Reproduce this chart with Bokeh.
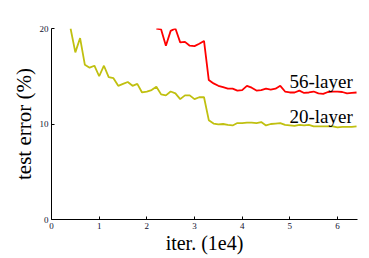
from bokeh.plotting import figure
from bokeh.models import Range1d, FixedTicker, Label
from bokeh.embed import file_html
from bokeh.resources import INLINE

# iterations (1e4)
iters_20 = [0.4, 0.5, 0.6, 0.7, 0.8, 0.9, 1.0, 1.1, 1.2, 1.3, 1.4, 1.5, 1.6, 1.7, 1.8, 1.9,
            2.0, 2.1, 2.2, 2.3, 2.4, 2.5, 2.6, 2.7, 2.8, 2.9, 3.0, 3.1, 3.2, 3.3, 3.4, 3.5,
            3.6, 3.7, 3.8, 3.9, 4.0, 4.1, 4.2, 4.3, 4.4, 4.5, 4.6, 4.7, 4.8, 4.9, 5.0, 5.1,
            5.2, 5.3, 5.4, 5.5, 5.6, 5.7, 5.8, 5.9, 6.0, 6.1, 6.2, 6.3, 6.4]
err_20 = [20.0, 17.5, 19.0, 16.2, 15.9, 16.1, 15.0, 16.1, 14.9, 14.8, 14.0, 14.2, 14.4, 14.0, 14.2, 13.3,
          13.4, 13.55, 13.9, 13.1, 13.0, 13.4, 13.2, 12.6, 13.0, 13.0, 12.6, 12.8, 12.8, 10.4, 10.05, 9.95,
          10.0, 9.9, 9.85, 10.1, 10.1, 10.15, 10.15, 10.1, 10.2, 9.85, 10.0, 10.05, 10.1, 9.9, 9.85, 9.8,
          9.9, 9.85, 9.9, 9.75, 9.75, 9.75, 9.75, 9.75, 9.65, 9.7, 9.7, 9.7, 9.75]

iters_56 = [2.2, 2.3, 2.4, 2.5, 2.6, 2.7, 2.8, 2.9, 3.0, 3.1, 3.2, 3.3, 3.4, 3.5, 3.6, 3.7,
            3.8, 3.9, 4.0, 4.1, 4.2, 4.3, 4.4, 4.5, 4.6, 4.7, 4.8, 4.9, 5.0, 5.1, 5.2, 5.3,
            5.4, 5.5, 5.6, 5.7, 5.8, 5.9, 6.0, 6.1, 6.2, 6.3, 6.4]
err_56 = [20.0, 19.9, 18.2, 19.75, 20.0, 18.55, 18.6, 18.2, 18.15, 18.4, 18.7, 14.6, 14.25, 14.0, 13.85, 13.7,
          13.7, 13.5, 13.55, 14.0, 13.8, 13.5, 13.55, 13.7, 13.6, 13.7, 14.0, 13.4, 13.3, 13.3, 13.5, 13.25,
          13.3, 13.4, 13.2, 13.15, 13.35, 13.4, 13.4, 13.35, 13.2, 13.25, 13.3]

x_ticks = [0, 1, 2, 3, 4, 5, 6]
y_ticks = [0, 10, 20]
series_labels = ["56-layer", "20-layer"]

SERIF = "Liberation Serif"

p = figure(width=361, height=256, output_backend="svg", toolbar_location=None,
           x_range=Range1d(0, 6.42), y_range=Range1d(0, 20),
           min_border_left=51, min_border_right=4, min_border_top=28, min_border_bottom=35)

p.line(iters_56, err_56, line_color="#ff0000", line_width=1.8)
p.line(iters_20, err_20, line_color="#c0c010", line_width=1.8)

p.add_layout(Label(x=6.32, y=14.5, text=series_labels[0], text_align="right",
                   text_baseline="alphabetic", text_font=SERIF, text_font_size="19px",
                   text_color="black"))
p.add_layout(Label(x=6.32, y=10.82, text=series_labels[1], text_align="right",
                   text_baseline="alphabetic", text_font=SERIF, text_font_size="19px",
                   text_color="black"))

p.grid.visible = False
p.outline_line_color = None
p.background_fill_color = "white"
p.border_fill_color = "white"

for ax in (p.xaxis[0], p.yaxis[0]):
    ax.major_tick_in = 3
    ax.major_tick_out = 0
    ax.minor_tick_line_color = None
    ax.axis_line_color = "black"
    ax.axis_line_width = 1
    ax.major_tick_line_color = "black"
    ax.major_label_text_font = SERIF
    ax.major_label_text_font_size = "9px"
    ax.major_label_text_color = "#101030"
    ax.major_label_standoff = 3
    ax.axis_label_text_font = SERIF
    ax.axis_label_text_font_style = "normal"
    ax.axis_label_text_color = "black"
    ax.axis_label_standoff = 0

p.xaxis[0].ticker = FixedTicker(ticks=x_ticks)
p.yaxis[0].ticker = FixedTicker(ticks=y_ticks)
p.xaxis[0].axis_label = "iter. (1e4)"
p.xaxis[0].axis_label_text_font_size = "20px"
p.yaxis[0].axis_label = "test error (%)"
p.yaxis[0].axis_label_text_font_size = "21px"
p.yaxis[0].axis_label_standoff = 1

open("out.html", "w").write(file_html(p, INLINE))
